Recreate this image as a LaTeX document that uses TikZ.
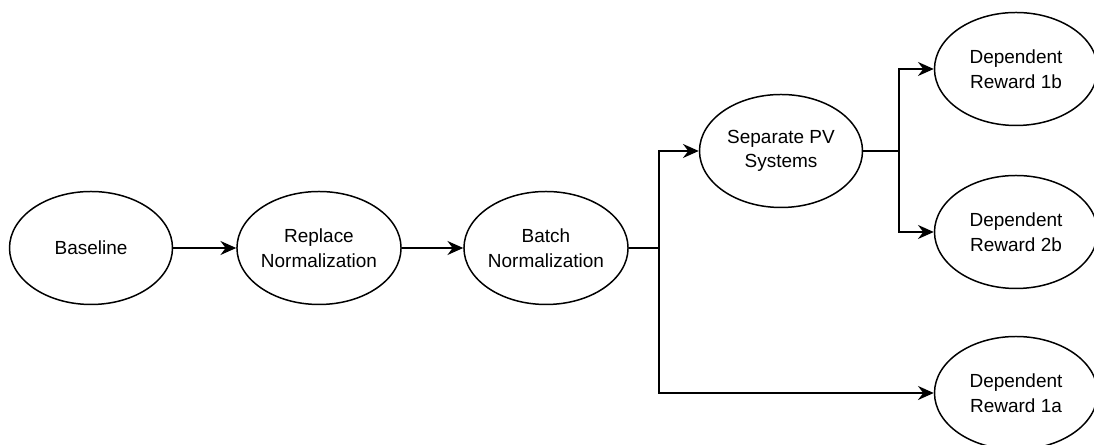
\documentclass[tikz,border=0pt]{standalone}
\usepackage{fontspec}
\setmainfont{Liberation Sans}
\usetikzlibrary{shapes.geometric,arrows.meta}
\begin{document}
\begin{tikzpicture}[>={Stealth[length=9pt,width=8pt,inset=3pt]},line width=0.85pt,
		stage/.style={draw,ellipse,minimum width=3.26cm,minimum height=2.26cm,inner sep=0pt,
			align=center,font=\fontsize{10.8}{14}\selectfont}]
		\useasboundingbox (0,0) rectangle (21.88,8.9);
		\node[stage] (base) at (1.82,3.94) {Baseline};
		\node[stage] (repl) at (6.38,3.94) {Replace\\Normalization};
		\node[stage] (batch) at (10.92,3.94) {Batch\\Normalization};
		\node[stage] (sep) at (15.62,5.88) {Separate PV\\Systems};
		\node[stage] (rew1b) at (20.32,7.52) {Dependent\\Reward 1b};
		\node[stage] (rew2b) at (20.32,4.26) {Dependent\\Reward 2b};
		\node[stage] (rew1a) at (20.32,1.04) {Dependent\\Reward 1a};
		\coordinate (split1) at (13.18,3.94);
		\coordinate (split2) at (17.98,5.88);
		\draw[->] (base)--(repl);
		\draw[->] (repl)--(batch);
		\draw[->] (batch.east)--(split1)|-(sep.west);
		\draw[->] (split1)|-(rew1a.west);
		\draw[->] (sep.east)--(split2)|-(rew1b.west);
		\draw[->] (split2)|-(rew2b.west);
	\end{tikzpicture}
\end{document}
